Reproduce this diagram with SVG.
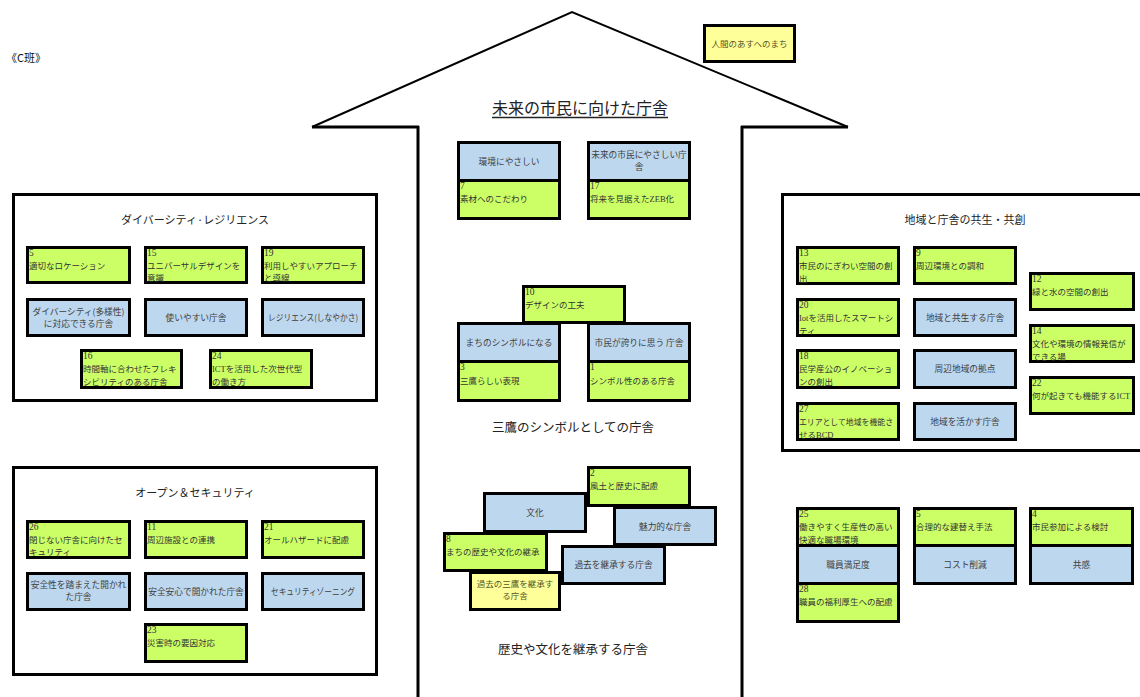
<svg xmlns="http://www.w3.org/2000/svg" width="1140" height="697" viewBox="0 0 1140 697">
  <style>
    .panel { fill: #ffffff; stroke: #000; stroke-width: 3; }
    .g { fill: #ccff66; stroke: #000; stroke-width: 3; }
    .b { fill: #bdd7ee; stroke: #000; stroke-width: 3; }
    .y { fill: #ffff99; stroke: #000; stroke-width: 3; }
    .num { font-family: "Liberation Serif", "Noto Sans CJK JP", serif; font-size: 9.5px; fill: #333333; }
    .gt { font-family: "Liberation Serif", "Noto Sans CJK JP", serif; font-size: 8.5px; fill: #333333; }
    .bt { font-family: "Noto Sans CJK JP", "Liberation Sans", sans-serif; font-size: 8.7px; fill: #404040; text-anchor: middle; }
    .yt { font-family: "Noto Sans CJK JP", "Liberation Sans", sans-serif; font-size: 8.5px; fill: #555522; text-anchor: middle; }
    .title { font-family: "Noto Sans CJK JP", "Liberation Sans", sans-serif; font-size: 11px; fill: #222222; text-anchor: middle; }
    .big { font-family: "Noto Sans CJK JP", "Liberation Sans", sans-serif; font-size: 12.5px; fill: #222222; text-anchor: middle; }
    .house { fill: none; stroke: #000; }
  </style>

  <rect width="1140" height="697" fill="#ffffff"/>

  <!-- house outline: roof, eaves and walls -->
  <g id="house">
    <polyline class="house" stroke-width="2" points="312,127 572,12 848,127"/>
    <line class="house" stroke-width="3" x1="312" y1="127" x2="419" y2="127"/>
    <line class="house" stroke-width="3" x1="741" y1="127" x2="848" y2="127"/>
    <line class="house" stroke-width="3" x1="418" y1="126" x2="418" y2="697"/>
    <line class="house" stroke-width="3" x1="742" y1="126" x2="742" y2="697"/>
  </g>

  <!-- no connectors in this chart -->
  <g id="connectors"/>

  <text x="6" y="62" font-family="Noto Sans CJK JP, sans-serif" font-size="11px" fill="#111">《C班》</text>

  <g id="node-ningen">
    <rect class="y" x="704.5" y="25.5" width="90" height="36"/>
    <text class="yt" x="749.5" y="47" fill="#222">人間のあすへのまち</text>
  </g>

  <g id="title-future">
    <text x="580" y="114" font-family="Noto Sans CJK JP, sans-serif" font-size="16px" fill="#222" text-anchor="middle">未来の市民に向けた庁舎</text>
    <line x1="492" y1="117.5" x2="668" y2="117.5" stroke="#222" stroke-width="1.3"/>
  </g>

  <!-- ===== Diversity / resilience panel ===== -->
  <g id="panel-diversity">
    <rect class="panel" x="13.5" y="194.5" width="363" height="206"/>
    <text class="title" x="195" y="224">ダイバーシティ·レジリエンス</text>
  </g>
  <g id="d5">
    <rect class="g" x="27.5" y="247.5" width="102" height="35"/>
    <text class="num" x="29" y="255.5">5</text>
    <text class="gt" x="29" y="268.5">適切なロケーション</text>
  </g>
  <g id="d15">
    <rect class="g" x="145.5" y="247.5" width="101" height="35"/>
    <text class="num" x="147" y="255.5">15</text>
    <text class="gt" x="147" y="268.5">ユニバーサルデザインを</text>
    <text class="gt" x="147" y="281">意識</text>
  </g>
  <g id="d19">
    <rect class="g" x="262.5" y="247.5" width="101" height="35"/>
    <text class="num" x="264" y="255.5">19</text>
    <text class="gt" x="264" y="268.5">利用しやすいアプローチ</text>
    <text class="gt" x="264" y="281">と導線</text>
  </g>
  <g id="d-diversity">
    <rect class="b" x="27.5" y="299.5" width="102" height="36"/>
    <text class="bt" x="78.5" y="315">ダイバーシティ(多様性)</text>
    <text class="bt" x="78.5" y="327">に対応できる庁舎</text>
  </g>
  <g id="d-easy">
    <rect class="b" x="145.5" y="299.5" width="101" height="36"/>
    <text class="bt" x="196" y="321">使いやすい庁舎</text>
  </g>
  <g id="d-resilience">
    <rect class="b" x="262.5" y="299.5" width="101" height="36"/>
    <text class="bt" x="313" y="321" textLength="90" lengthAdjust="spacingAndGlyphs">レジリエンス(しなやかさ)</text>
  </g>
  <g id="d16">
    <rect class="g" x="81.5" y="350.5" width="100" height="37"/>
    <text class="num" x="83" y="358.5">16</text>
    <text class="gt" x="83" y="371.5">時間軸に合わせたフレキ</text>
    <text class="gt" x="83" y="384.5">シビリティのある庁舎</text>
  </g>
  <g id="d24">
    <rect class="g" x="210.5" y="350.5" width="101" height="37"/>
    <text class="num" x="212" y="358.5">24</text>
    <text class="gt" x="212" y="371.5">ICTを活用した次世代型</text>
    <text class="gt" x="212" y="384.5">の働き方</text>
  </g>

  <!-- ===== Open & security panel ===== -->
  <g id="panel-open">
    <rect class="panel" x="13.5" y="467.5" width="363" height="207"/>
    <text class="title" x="195" y="497">オープン＆セキュリティ</text>
  </g>
  <g id="o26">
    <rect class="g" x="27.5" y="521.5" width="102" height="36"/>
    <text class="num" x="29" y="529.5">26</text>
    <text class="gt" x="29" y="542.5">閉じない庁舎に向けたセ</text>
    <text class="gt" x="29" y="555">キュリティ</text>
  </g>
  <g id="o11">
    <rect class="g" x="145.5" y="521.5" width="101" height="36"/>
    <text class="num" x="147" y="529.5">11</text>
    <text class="gt" x="147" y="542.5">周辺施設との連携</text>
  </g>
  <g id="o21">
    <rect class="g" x="262.5" y="521.5" width="101" height="36"/>
    <text class="num" x="264" y="529.5">21</text>
    <text class="gt" x="264" y="542.5">オールハザードに配慮</text>
  </g>
  <g id="o-safe-open">
    <rect class="b" x="27.5" y="573.5" width="102" height="36"/>
    <text class="bt" x="78.5" y="588">安全性を踏まえた開かれ</text>
    <text class="bt" x="78.5" y="600">た庁舎</text>
  </g>
  <g id="o-secure">
    <rect class="b" x="145.5" y="573.5" width="101" height="36"/>
    <text class="bt" x="196" y="595">安全安心で開かれた庁舎</text>
  </g>
  <g id="o-zoning">
    <rect class="b" x="262.5" y="573.5" width="101" height="36"/>
    <text class="bt" x="313" y="595" textLength="84" lengthAdjust="spacingAndGlyphs">セキュリティゾーニング</text>
  </g>
  <g id="o23">
    <rect class="g" x="145.5" y="624.5" width="101" height="37"/>
    <text class="num" x="147" y="632.5">23</text>
    <text class="gt" x="147" y="645.5">災害時の要因対応</text>
  </g>

  <!-- ===== Centre: future citizens ===== -->
  <g id="c-eco">
    <rect class="b" x="458.5" y="142.5" width="101" height="38"/>
    <text class="bt" x="509" y="165">環境にやさしい</text>
    <rect class="g" x="458.5" y="180.5" width="101" height="38"/>
    <text class="num" x="460" y="188.5">7</text>
    <text class="gt" x="460" y="201.5">素材へのこだわり</text>
  </g>
  <g id="c-future">
    <rect class="b" x="588.5" y="142.5" width="101" height="38"/>
    <text class="bt" x="639" y="158">未来の市民にやさしい庁</text>
    <text class="bt" x="639" y="170">舎</text>
    <rect class="g" x="588.5" y="180.5" width="101" height="38"/>
    <text class="num" x="590" y="188.5">17</text>
    <text class="gt" x="590" y="201.5">将来を見据えたZEB化</text>
  </g>

  <!-- ===== Centre: Mitaka symbol ===== -->
  <g id="c10">
    <rect class="g" x="523.5" y="286.5" width="101" height="36"/>
    <text class="num" x="525" y="294.5">10</text>
    <text class="gt" x="525" y="307.5">デザインの工夫</text>
  </g>
  <g id="c-symbol">
    <rect class="b" x="458.5" y="323.5" width="101" height="38"/>
    <text class="bt" x="509" y="346">まちのシンボルになる</text>
    <rect class="g" x="458.5" y="361.5" width="101" height="39"/>
    <text class="num" x="460" y="370">3</text>
    <text class="gt" x="460" y="383.5">三鷹らしい表現</text>
  </g>
  <g id="c-pride">
    <rect class="b" x="588.5" y="323.5" width="101" height="38"/>
    <text class="bt" x="639" y="346">市民が誇りに思う 庁舎</text>
    <rect class="g" x="588.5" y="361.5" width="101" height="39"/>
    <text class="num" x="590" y="370">1</text>
    <text class="gt" x="590" y="383.5">シンボル性のある庁舎</text>
  </g>
  <text class="big" x="573" y="432">三鷹のシンボルとしての庁舎</text>

  <!-- ===== Centre: history and culture ===== -->
  <g id="h-culture">
    <rect class="b" x="484.5" y="493.5" width="101" height="38"/>
    <text class="bt" x="535" y="516">文化</text>
  </g>
  <g id="h2">
    <rect class="g" x="588.5" y="467.5" width="101" height="38"/>
    <text class="num" x="590" y="475.5">2</text>
    <text class="gt" x="590" y="488.5">風土と歴史に配慮</text>
  </g>
  <g id="h-charm">
    <rect class="b" x="614.5" y="507.5" width="101" height="37"/>
    <text class="bt" x="665" y="530">魅力的な庁舎</text>
  </g>
  <g id="h8">
    <rect class="g" x="444.5" y="533.5" width="102" height="37"/>
    <text class="num" x="446" y="541.5">8</text>
    <text class="gt" x="446" y="554.5">まちの歴史や文化の継承</text>
  </g>
  <g id="h-past">
    <rect class="b" x="562.5" y="546.5" width="102" height="37"/>
    <text class="bt" x="613.5" y="568">過去を継承する庁舎</text>
  </g>
  <g id="h-mitaka">
    <rect class="y" x="470.5" y="572.5" width="89" height="37"/>
    <text class="yt" x="515" y="587">過去の三鷹を継承す</text>
    <text class="yt" x="515" y="599">る庁舎</text>
  </g>
  <text class="big" x="573" y="654">歴史や文化を継承する庁舎</text>

  <!-- ===== Region & coexistence panel ===== -->
  <g id="panel-region">
    <rect class="panel" x="782.5" y="194.5" width="400" height="256"/>
    <text class="title" x="965" y="224">地域と庁舎の共生・共創</text>
  </g>
  <g id="r13">
    <rect class="g" x="797.5" y="247.5" width="101" height="36"/>
    <text class="num" x="799" y="255.5">13</text>
    <text class="gt" x="799" y="268.5">市民のにぎわい空間の創</text>
    <text class="gt" x="799" y="281.5">出</text>
  </g>
  <g id="r20">
    <rect class="g" x="797.5" y="299.5" width="101" height="36"/>
    <text class="num" x="799" y="307.5">20</text>
    <text class="gt" x="799" y="320.5">Iotを活用したスマートシ</text>
    <text class="gt" x="799" y="333.5">ティ</text>
  </g>
  <g id="r18">
    <rect class="g" x="797.5" y="350.5" width="101" height="37"/>
    <text class="num" x="799" y="358.5">18</text>
    <text class="gt" x="799" y="371.5">民学産公のイノベーショ</text>
    <text class="gt" x="799" y="384.5">ンの創出</text>
  </g>
  <g id="r27">
    <rect class="g" x="797.5" y="403.5" width="101" height="36"/>
    <text class="num" x="799" y="411.5">27</text>
    <text class="gt" x="799" y="424.5" textLength="94" lengthAdjust="spacingAndGlyphs">エリアとして地域を機能さ</text>
    <text class="gt" x="799" y="437.5">せるBCD</text>
  </g>
  <g id="r9">
    <rect class="g" x="914.5" y="247.5" width="101" height="36"/>
    <text class="num" x="916" y="255.5">9</text>
    <text class="gt" x="916" y="268.5">周辺環境との調和</text>
  </g>
  <g id="r-coexist">
    <rect class="b" x="914.5" y="299.5" width="101" height="36"/>
    <text class="bt" x="965" y="321">地域と共生する庁舎</text>
  </g>
  <g id="r-hub">
    <rect class="b" x="914.5" y="350.5" width="101" height="37"/>
    <text class="bt" x="965" y="372">周辺地域の拠点</text>
  </g>
  <g id="r-utilize">
    <rect class="b" x="914.5" y="403.5" width="101" height="36"/>
    <text class="bt" x="965" y="425">地域を活かす庁舎</text>
  </g>
  <g id="r12">
    <rect class="g" x="1030.5" y="273.5" width="103" height="36"/>
    <text class="num" x="1032" y="281.5">12</text>
    <text class="gt" x="1032" y="294.5">緑と水の空間の創出</text>
  </g>
  <g id="r14">
    <rect class="g" x="1030.5" y="325.5" width="103" height="36"/>
    <text class="num" x="1032" y="333.5">14</text>
    <text class="gt" x="1032" y="346.5">文化や環境の情報発信が</text>
    <text class="gt" x="1032" y="359.5">できる場</text>
  </g>
  <g id="r22">
    <rect class="g" x="1030.5" y="377.5" width="103" height="36"/>
    <text class="num" x="1032" y="385.5">22</text>
    <text class="gt" x="1032" y="398.5">何が起きても機能するICT</text>
  </g>

  <!-- ===== Staff, cost, empathy ===== -->
  <g id="s-staff">
    <rect class="g" x="797.5" y="508.5" width="101" height="37"/>
    <text class="num" x="799" y="516.5">25</text>
    <text class="gt" x="799" y="529.5">働きやすく生産性の高い</text>
    <text class="gt" x="799" y="542.5">快適な職場環境</text>
    <rect class="b" x="797.5" y="545.5" width="101" height="38"/>
    <text class="bt" x="848" y="568">職員満足度</text>
    <rect class="g" x="797.5" y="583.5" width="101" height="38"/>
    <text class="num" x="799" y="591.5">28</text>
    <text class="gt" x="799" y="604.5">職員の福利厚生への配慮</text>
  </g>
  <g id="s-cost">
    <rect class="g" x="914.5" y="508.5" width="101" height="37"/>
    <text class="num" x="916" y="516.5">5</text>
    <text class="gt" x="916" y="529.5">合理的な建替え手法</text>
    <rect class="b" x="914.5" y="545.5" width="101" height="38"/>
    <text class="bt" x="965" y="568">コスト削減</text>
  </g>
  <g id="s-empathy">
    <rect class="g" x="1030.5" y="508.5" width="102" height="37"/>
    <text class="num" x="1032" y="516.5">4</text>
    <text class="gt" x="1032" y="529.5">市民参加による検討</text>
    <rect class="b" x="1030.5" y="545.5" width="102" height="38"/>
    <text class="bt" x="1081.5" y="568">共感</text>
  </g>
</svg>
